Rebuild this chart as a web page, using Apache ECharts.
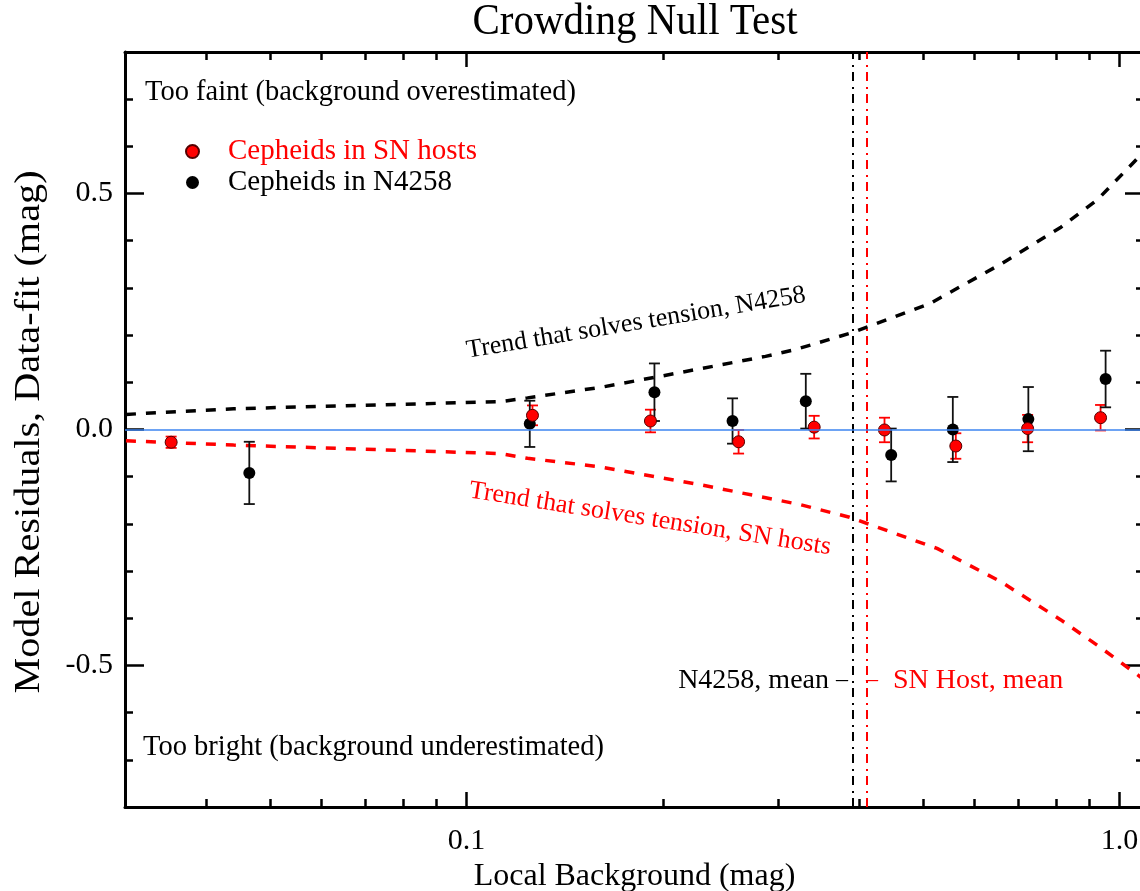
<!DOCTYPE html>
<html>
<head>
<meta charset="utf-8">
<script src="https://cdn.jsdelivr.net/npm/echarts@6/dist/echarts.min.js"></script>
<style>html,body{margin:0;padding:0;background:#fff;}#chart{width:1140px;height:891px;}</style>
</head>
<body>
<div id="chart"></div>
<script>
// ---- data ----
const snX      = [0.0353, 0.1262, 0.1913, 0.261, 0.3407, 0.4366, 0.5614, 0.7231, 0.9352];
const snY      = [-0.027, 0.030, 0.018, -0.026, 0.005, -0.001, -0.035, 0.002, 0.025];
const snErr    = [0.012, 0.021, 0.024, 0.025, 0.024, 0.026, 0.027, 0.029, 0.027];
const n4258X   = [0.0465, 0.125, 0.194, 0.2555, 0.3308, 0.447, 0.5555, 0.725, 0.952];
const n4258Y   = [-0.092, 0.012, 0.079, 0.018, 0.060, -0.054, 0.000, 0.022, 0.107];
const n4258Err = [0.066, 0.049, 0.061, 0.048, 0.058, 0.056, 0.069, 0.068, 0.060];

const trendN4258X = [0.0301, 0.044, 0.1127, 0.124, 0.1615, 0.2002, 0.287, 0.318, 0.389, 0.511, 0.657, 0.812, 0.925, 1.066];
const trendN4258Y = [0.032, 0.044, 0.059, 0.067, 0.090, 0.114, 0.155, 0.169, 0.205, 0.266, 0.350, 0.428, 0.487, 0.575];
const trendSNX    = [0.0301, 0.044, 0.1127, 0.124, 0.16, 0.228, 0.324, 0.386, 0.5254, 0.657, 0.812, 0.935, 1.078];
const trendSNY    = [-0.024, -0.033, -0.051, -0.061, -0.079, -0.117, -0.159, -0.186, -0.252, -0.322, -0.403, -0.462, -0.525];

const meanN4258 = 0.39;
const meanSN    = 0.41;

const xMajorTicks = [0.1, 1.0];
const xMinorTicks = [0.04, 0.05, 0.06, 0.07, 0.08, 0.09, 0.2, 0.3, 0.4, 0.5, 0.6, 0.7, 0.8, 0.9];
const yMajorTicks = [-0.5, 0.0, 0.5];
const yMinorTicks = [-0.7, -0.6, -0.4, -0.3, -0.2, -0.1, 0.1, 0.2, 0.3, 0.4, 0.6, 0.7];

const seriesNames = ['Cepheids in SN hosts', 'Cepheids in N4258'];

// ---- chart ----
const FONT = 'Liberation Serif';
const RED = '#ff0000';

function pairs(xs, ys) { return xs.map((x, i) => [x, ys[i]]); }
function errData(xs, ys, es) { return xs.map((x, i) => [x, ys[i] - es[i], ys[i] + es[i]]); }
function errRender(color, capW, lw) {
  return function (params, api) {
    const x = api.value(0), lo = api.value(1), hi = api.value(2);
    const a = api.coord([x, lo]), b = api.coord([x, hi]);
    const st = { stroke: color, lineWidth: lw };
    return { type: 'group', children: [
      { type: 'line', shape: { x1: a[0], y1: a[1], x2: b[0], y2: b[1] }, style: st },
      { type: 'line', shape: { x1: a[0] - capW / 2, y1: a[1], x2: a[0] + capW / 2, y2: a[1] }, style: st },
      { type: 'line', shape: { x1: b[0] - capW / 2, y1: b[1], x2: b[0] + capW / 2, y2: b[1] }, style: st }
    ]};
  };
}

const XMIN = 0.03, XMAX = 1.09, YMIN = -0.8, YMAX = 0.8;
const axisLineStyle = { color: '#000', width: 3 };

function xAx(pos, ticks, len, labels, lineShow) {
  return {
    type: 'log', logBase: 10, min: XMIN, max: XMAX, position: pos,
    axisLine: { show: lineShow, onZero: false, lineStyle: axisLineStyle },
    axisTick: { show: true, inside: true, length: len, customValues: ticks, lineStyle: { color: '#000', width: 2.5 } },
    axisLabel: labels ? { show: true, customValues: xMajorTicks, margin: 19, color: '#000', fontFamily: FONT, fontSize: 30,
      formatter: v => (v >= 1 ? Number(v).toFixed(1) : String(v)) } : { show: false },
    splitLine: { show: false }, minorTick: { show: false }
  };
}
function yAx(pos, ticks, len, labels, lineShow) {
  return {
    type: 'value', min: YMIN, max: YMAX, position: pos,
    axisLine: { show: lineShow, onZero: false, lineStyle: axisLineStyle },
    axisTick: { show: true, inside: true, length: len, customValues: ticks, lineStyle: { color: '#000', width: 2.5 } },
    axisLabel: labels ? { show: true, customValues: yMajorTicks, margin: 12, color: '#000', fontFamily: FONT, fontSize: 30,
      formatter: v => Number(v).toFixed(1) } : { show: false },
    splitLine: { show: false }
  };
}

const xAxes = [
  xAx('bottom', xMajorTicks, 15, true, true),
  xAx('bottom', xMinorTicks, 8, false, false),
  xAx('top', xMajorTicks, 15, false, true),
  xAx('top', xMinorTicks, 8, false, false)
];
Object.assign(xAxes[0], { name: 'Local Background (mag)', nameLocation: 'middle', nameGap: 49,
  nameTextStyle: { color: '#000', fontFamily: FONT, fontSize: 32 } });
const yAxes = [
  yAx('left', yMajorTicks, 19, true, true),
  yAx('left', yMinorTicks, 8, false, false),
  yAx('right', yMajorTicks, 19, false, true),
  yAx('right', yMinorTicks, 8, false, false)
];

const dashDot = [9, 5, 2, 6];
const txt = (x, y, text, size, fill, align, extra) => Object.assign({ type: 'text', x: x, y: y,
  style: { text: text, fontFamily: FONT, fontSize: size, fill: fill, align: align, verticalAlign: 'middle' } }, extra || {});

const option = {
  animation: false,
  backgroundColor: '#fff',
  grid: { left: 125, right: -4, top: 52, bottom: 84, containLabel: false, outerBoundsMode: 'none' },
  xAxis: xAxes,
  yAxis: yAxes,
  legend: {
    orient: 'vertical', left: 180, top: 131, itemGap: 0, itemWidth: 13, itemHeight: 13, icon: 'circle',
    data: [
      { name: seriesNames[0], textStyle: { color: RED } },
      { name: seriesNames[1], textStyle: { color: '#000' } }
    ],
    textStyle: { fontFamily: FONT, fontSize: 29, lineHeight: 31, padding: [0, 0, 0, 24] }
  },
  graphic: [
    txt(635, 22, 'Crowding Null Test', 41, '#000', 'center', { scaleY: 1.1 }),
    txt(30, 432, 'Model Residuals, Data-fit (mag)', 35, '#000', 'center', { rotation: Math.PI / 2, scaleX: 1.15 }),
    txt(145, 93, 'Too faint (background overestimated)', 28.5, '#000', 'left'),
    txt(143, 748, 'Too bright (background underestimated)', 28.5, '#000', 'left'),
    txt(636, 323, 'Trend that solves tension, N4258', 26, '#000', 'center', { rotation: 0.164 }),
    txt(650, 519, 'Trend that solves tension, SN hosts', 26, RED, 'center', { rotation: -0.157 }),
    txt(829, 681, 'N4258, mean', 28, '#000', 'right'),
    txt(836, 680, '\u2013', 24, '#000', 'left'),
    txt(866, 680, '\u2013', 24, RED, 'left'),
    txt(893, 681, 'SN Host, mean', 28, RED, 'left')
  ],
  series: [
    {
      type: 'line', name: 'Trend N4258', data: pairs(trendN4258X, trendN4258Y), showSymbol: false, silent: true,
      lineStyle: { color: '#000', width: 3.5, type: [10, 10] }, z: 1,
      markLine: { silent: true, symbol: 'none', label: { show: false }, lineStyle: { color: '#000', width: 2, type: dashDot },
        data: [{ xAxis: meanN4258 }] }
    },
    {
      type: 'line', name: 'Trend SN', data: pairs(trendSNX, trendSNY), showSymbol: false, silent: true,
      lineStyle: { color: RED, width: 3.5, type: [10, 10] }, z: 1,
      markLine: { silent: true, symbol: 'none', label: { show: false }, lineStyle: { color: RED, width: 2, type: dashDot },
        data: [{ xAxis: meanSN }] }
    },
    {
      type: 'line', name: 'zero', data: [], silent: true, z: 1,
      markLine: { silent: true, symbol: 'none', label: { show: false }, lineStyle: { color: '#3d85f0', width: 1.5, type: 'solid' },
        data: [{ yAxis: 0 }] }
    },
    {
      type: 'scatter', name: seriesNames[1], data: pairs(n4258X, n4258Y), symbol: 'circle', symbolSize: 12,
      itemStyle: { color: '#000', opacity: 1 }, z: 3
    },
    {
      type: 'custom', name: 'sn err', data: errData(snX, snY, snErr), renderItem: errRender(RED, 11, 1.8),
      encode: { x: 0, y: [1, 2] }, z: 3, silent: true
    },
    {
      type: 'scatter', name: seriesNames[0], data: pairs(snX, snY), symbol: 'circle', symbolSize: 12,
      itemStyle: { color: RED, borderColor: '#500', borderWidth: 1, opacity: 1 }, z: 3
    },
    {
      type: 'custom', name: 'n4258 err', data: errData(n4258X, n4258Y, n4258Err), renderItem: errRender('#111', 11, 1.8),
      encode: { x: 0, y: [1, 2] }, z: 3, silent: true
    }
  ]
};

const chart = echarts.init(document.getElementById('chart'), null, { renderer: 'canvas' });
chart.setOption(option);
</script>
</body>
</html>
